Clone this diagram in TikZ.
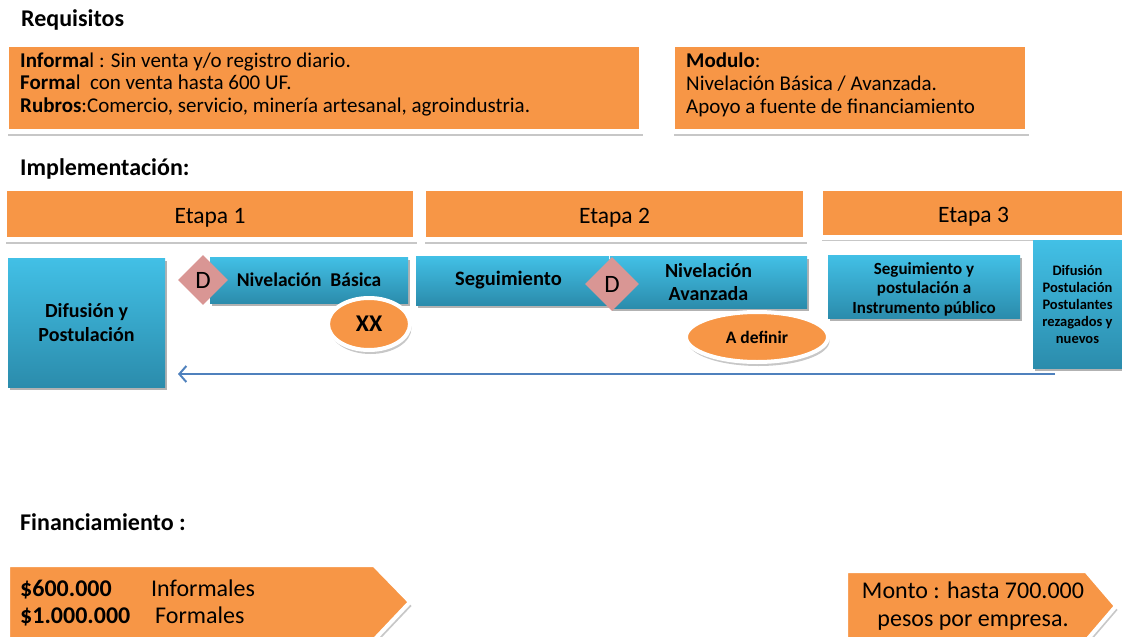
\documentclass[tikz,border=0pt]{standalone}
\usepackage{fontspec}
\setmainfont{Carlito}
\usetikzlibrary{shapes.geometric,shadows,arrows.meta,calc}
\definecolor{org}{HTML}{F79646}
\definecolor{btop}{HTML}{42C0E6}
\definecolor{bbot}{HTML}{2B8CAC}
\definecolor{pinkd}{HTML}{D99694}
\definecolor{arrblue}{HTML}{4F81BD}
\tikzset{
  fs/.style 2 args={font=\fontsize{#1}{#2}\selectfont},
  bfs/.style 2 args={font=\fontsize{#1}{#2}\bfseries\selectfont},
  shad/.style={drop shadow={shadow xshift=1.5pt,shadow yshift=-4pt,opacity=0.22,fill=black}},
  obox/.style={rectangle,fill=org,draw=white,line width=5pt,shad,inner sep=0pt,outer sep=0pt,anchor=north west},
  bbox/.style={rectangle,top color=btop,bottom color=bbot,draw=none,drop shadow={shadow xshift=1.5pt,shadow yshift=-2.5pt,opacity=0.3,fill=black},inner sep=0pt,outer sep=0pt,anchor=north west,align=center,text=black},
  diam/.style={diamond,fill=pinkd,draw=none,inner sep=0pt,minimum width=#1,minimum height=#1,font=\fontsize{25}{27}\selectfont},
  oell/.style={ellipse,fill=org,draw=white,line width=4pt,shad,inner sep=0pt},
  txt/.style={inner sep=0pt,anchor=base west},
  ctxt/.style={inner sep=0pt,anchor=base},
  hd/.style={txt,bfs={24}{27}},
}
\begin{document}
\begin{tikzpicture}[x=1pt,y=-1pt]
\useasboundingbox (0,0) rectangle (1122,637);

% Requisitos
\node[hd] (hreq) at (21,26) {Requisitos};
\node[obox,minimum width=635,minimum height=87] (req1) at (6.5,44.5) {};
\node[txt,fs={21}{23}] (r1) at (20,67) {\textbf{Informa}l : Sin venta y/o registro diario.};
\node[txt,fs={21}{23}] (r2) at (20,89) {\textbf{Forma}l\ \ con venta hasta 600 UF.};
\node[txt,fs={21}{23}] (r3) at (20,112) {\textbf{Rubros}:Comercio, servicio, minería artesanal, agroindustria.};
\node[obox,minimum width=355,minimum height=87] (req2) at (672.5,44.5) {};
\node[txt,fs={21}{23}] (m1) at (686,67) {\textbf{Modulo}:};
\node[txt,fs={21}{23}] (m2) at (686,90) {Nivelación Básica / Avanzada.};
\node[txt,fs={21}{23}] (m3) at (686,113) {Apoyo a fuente de financiamiento};

% Implementacion
\node[hd] (himp) at (20,175) {Implementación:};
\node[obox,minimum width=411,minimum height=51] (e1) at (4.5,188.5) {};
\node[ctxt,fs={23.5}{26}] (e1t) at (e1.center |- 0,223) {Etapa 1};
\node[obox,minimum width=382,minimum height=51] (e2) at (423.5,188.5) {};
\node[ctxt,fs={23.5}{26}] (e2t) at (e2.center |- 0,223) {Etapa 2};
\node[obox,minimum width=306,minimum height=49] (e3) at (820.5,188) {};
\node[ctxt,fs={23.5}{26}] (e3t) at (e3.center |- 0,222) {Etapa 3};

% blue boxes
\node[bbox,minimum width=157,minimum height=129,bfs={20}{24}] (dp) at (8,258) {Difusión y\\Postulación};
\node[bbox,minimum width=198,minimum height=46,bfs={19.5}{23}] (nb) at (210,257) {Nivelación\ \ Básica};
\node[bbox,minimum width=193,minimum height=49,bfs={20.5}{23}] (sg) at (416,256) {Seguimiento\hspace*{8pt}};
\node[bbox,minimum width=197,minimum height=52,bfs={20}{23}] (na) at (610,256) {Nivelación\\Avanzada};
\node[bbox,minimum width=192,minimum height=63,bfs={17}{19.5}] (sp) at (828,255) {\rule{0pt}{17pt}Seguimiento y\\postulación a\\Instrumento público};
\node[bbox,minimum width=92,minimum height=128,bfs={14.5}{17}] (d2) at (1033,240) {\hspace*{-3pt}Difusión\\\hspace*{-3pt}Postulación\\\hspace*{-3pt}Postulantes\\\hspace*{-3pt}rezagados y\\\hspace*{-3pt}nuevos};

% diamonds
\node[diam=50] (D1) at (203,280) {D};
\node[diam=54] (D2) at (612,284) {D};

% ellipses
\node[oell,minimum width=82,minimum height=52,bfs={24}{26}] (xx) at (369,324) {XX};
\node[oell,minimum width=142,minimum height=50,bfs={17.5}{19}] (ad) at (757,337) {A definir};

% arrow back
\coordinate (as) at (1055,374);
\coordinate (ae) at (178,374);
\draw[arrblue,line width=2.5pt,-{Straight Barb[length=7pt,width=16pt,line width=2pt]}] (as) -- (ae);

% Financiamiento
\node[hd] (hfin) at (20,530) {Financiamiento :};
\fill[org,draw=white,line width=4pt,shad] (8,565) -- (374,565) -- (410,602) -- (374,640) -- (8,640) -- cycle;
\node[txt,bfs={24}{27}] (f1a) at (20,596) {\$600.000};
\node[txt,fs={24}{27}] (f1b) at (151,596) {Informales};
\node[txt,bfs={24}{27}] (f2a) at (20,623) {\$1.000.000};
\node[txt,fs={24}{27}] (f2b) at (155,623) {Formales};

\fill[org,draw=white,line width=4pt,shad] (846,571) -- (1086,571) -- (1116,606) -- (1086,641) -- (846,641) -- cycle;
\node[ctxt,fs={24}{27}] (mo1) at (973,598) {Monto : hasta 700.000};
\node[ctxt,fs={24}{27}] (mo2) at (973,626) {pesos por empresa.};
\end{tikzpicture}
\end{document}
